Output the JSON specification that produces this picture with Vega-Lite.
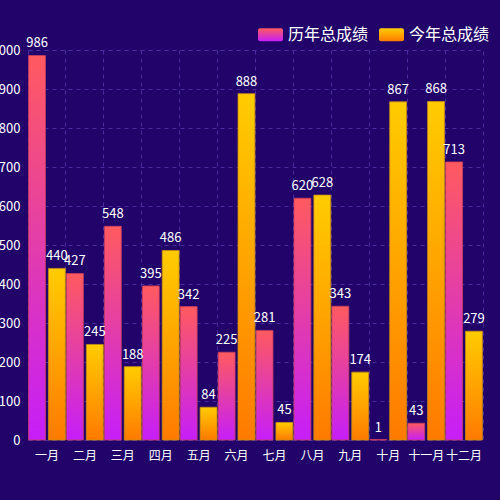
{
  "$schema": "https://vega.github.io/schema/vega-lite/v6.json",
  "autosize": {"type": "none"},
  "width": 455,
  "height": 390,
  "padding": {"left": 28, "top": 50, "right": 17, "bottom": 60},
  "background": "#21036a",
  "config": {
    "font": "Noto Sans CJK SC",
    "view": {"stroke": "#4b2c9e", "strokeDash": [4, 4], "strokeWidth": 1}
  },
  "data": {
    "values": [
      {"month": "一月", "series": "历年总成绩", "value": 986},
      {"month": "二月", "series": "历年总成绩", "value": 427},
      {"month": "三月", "series": "历年总成绩", "value": 548},
      {"month": "四月", "series": "历年总成绩", "value": 395},
      {"month": "五月", "series": "历年总成绩", "value": 342},
      {"month": "六月", "series": "历年总成绩", "value": 225},
      {"month": "七月", "series": "历年总成绩", "value": 281},
      {"month": "八月", "series": "历年总成绩", "value": 620},
      {"month": "九月", "series": "历年总成绩", "value": 343},
      {"month": "十月", "series": "历年总成绩", "value": 1},
      {"month": "十一月", "series": "历年总成绩", "value": 43},
      {"month": "十二月", "series": "历年总成绩", "value": 713},
      {"month": "一月", "series": "今年总成绩", "value": 440},
      {"month": "二月", "series": "今年总成绩", "value": 245},
      {"month": "三月", "series": "今年总成绩", "value": 188},
      {"month": "四月", "series": "今年总成绩", "value": 486},
      {"month": "五月", "series": "今年总成绩", "value": 84},
      {"month": "六月", "series": "今年总成绩", "value": 888},
      {"month": "七月", "series": "今年总成绩", "value": 45},
      {"month": "八月", "series": "今年总成绩", "value": 628},
      {"month": "九月", "series": "今年总成绩", "value": 174},
      {"month": "十月", "series": "今年总成绩", "value": 867},
      {"month": "十一月", "series": "今年总成绩", "value": 868},
      {"month": "十二月", "series": "今年总成绩", "value": 279}
    ]
  },
  "encoding": {
    "x": {
      "field": "month",
      "type": "nominal",
      "sort": ["一月","二月","三月","四月","五月","六月","七月","八月","九月","十月","十一月","十二月"],
      "scale": {"paddingInner": 0, "paddingOuter": 0},
      "axis": {
        "title": null,
        "labelAngle": 0,
        "labelColor": "#ffffff",
        "labelFontSize": 12,
        "labelPadding": 10,
        "ticks": false,
        "grid": true,
        "bandPosition": 0,
        "gridColor": "#4b2c9e",
        "gridDash": [4, 4],
        "domainColor": "#4b2c9e",
        "domainDash": [4, 4]
      }
    },
    "xOffset": {
      "field": "series",
      "type": "nominal",
      "sort": ["历年总成绩", "今年总成绩"],
      "scale": {"paddingInner": 0.15, "paddingOuter": 0.03}
    },
    "y": {
      "field": "value",
      "type": "quantitative",
      "scale": {"domain": [0, 1000], "nice": false},
      "axis": {
        "title": null,
        "values": [0,100,200,300,400,500,600,700,800,900,1000],
        "labelColor": "#ffffff",
        "labelFontSize": 13,
        "labelPadding": 8,
        "ticks": false,
        "domain": false,
        "gridColor": "#4b2c9e",
        "gridDash": [4, 4]
      }
    }
  },
  "layer": [
    {
      "mark": {"type": "bar", "strokeWidth": 1, "strokeOpacity": 0.8},
      "encoding": {
        "stroke": {
          "field": "series",
          "type": "nominal",
          "scale": {
            "domain": ["历年总成绩", "今年总成绩"],
            "range": ["#c8405c", "#c89010"]
          },
          "legend": {
            "title": null,
            "orient": "none",
            "direction": "horizontal",
            "legendX": 230,
            "legendY": -28,
            "labelColor": "#ffffff",
            "labelFontSize": 16,
            "labelOffset": 5,
            "columnPadding": 10,
            "symbolSize": 625,
            "symbolStrokeWidth": 0,
            "symbolOpacity": 1,
            "symbolType": "M-0.84,-0.52 L0.84,-0.52 Q1,-0.52 1,-0.36 L1,0.36 Q1,0.52 0.84,0.52 L-0.84,0.52 Q-1,0.52 -1,0.36 L-1,-0.36 Q-1,-0.52 -0.84,-0.52 Z",
            "encoding": {
              "symbols": {
                "fill": {
                  "condition": {
                    "test": "datum.value === '历年总成绩'",
                    "value": {"gradient": "linear", "x1": 0, "y1": 0, "x2": 0, "y2": 1, "stops": [{"offset": 0, "color": "#ff5a5f"}, {"offset": 1, "color": "#c61ef9"}]}
                  },
                  "value": {"gradient": "linear", "x1": 0, "y1": 0, "x2": 0, "y2": 1, "stops": [{"offset": 0, "color": "#ffcc00"}, {"offset": 1, "color": "#ff7a00"}]}
                },
                "fillOpacity": {"value": 1},
                "strokeWidth": {"value": 0}
              }
            }
          }
        },
        "fill": {
          "condition": {
            "test": "datum.series === '历年总成绩'",
            "value": {"gradient": "linear", "x1": 0, "y1": 0, "x2": 0, "y2": 1, "stops": [{"offset": 0, "color": "#ff5a5f"}, {"offset": 1, "color": "#c61ef9"}]}
          },
          "value": {"gradient": "linear", "x1": 0, "y1": 0, "x2": 0, "y2": 1, "stops": [{"offset": 0, "color": "#ffcc00"}, {"offset": 1, "color": "#ff7a00"}]}
        }
      }
    },
    {
      "mark": {"type": "text", "baseline": "bottom", "dy": -5, "fontSize": 13, "color": "#ffffff"},
      "encoding": {
        "text": {"field": "value", "type": "quantitative"}
      }
    }
  ]
}
